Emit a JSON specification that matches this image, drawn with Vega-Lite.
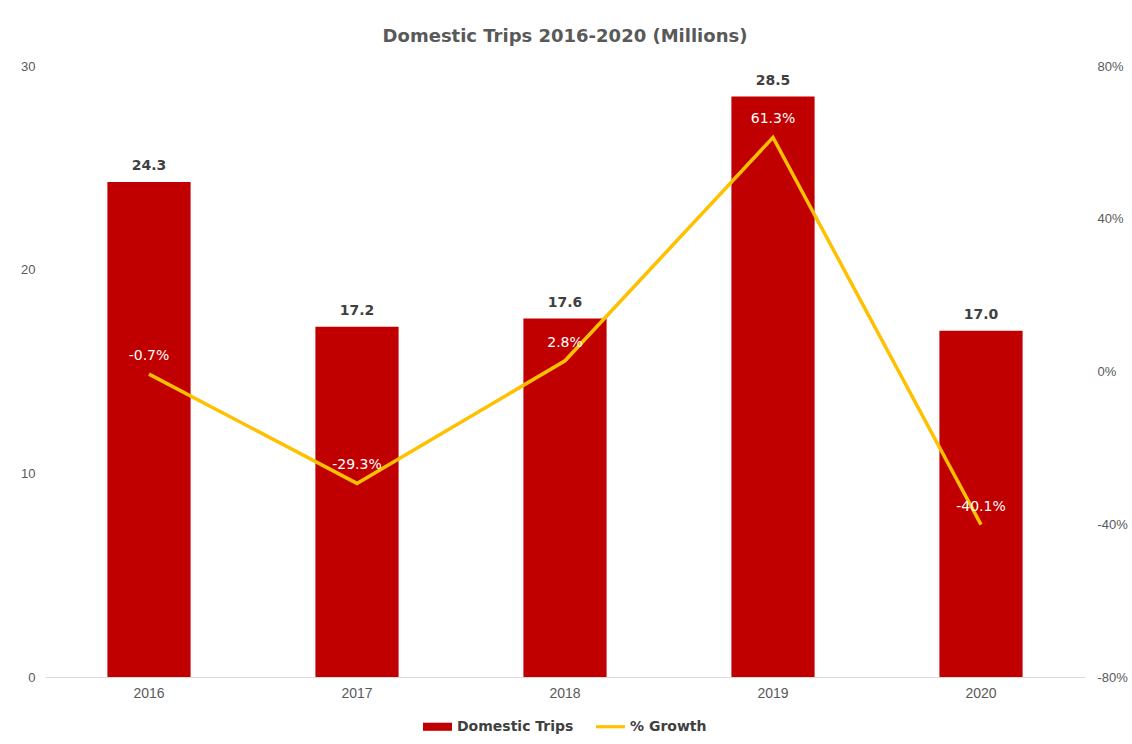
{
  "$schema": "https://vega.github.io/schema/vega-lite/v6.json",
  "width": 1040,
  "height": 611,
  "autosize": {"type": "none"},
  "padding": {"left": 45, "top": 66, "right": 47, "bottom": 67},
  "background": "white",
  "title": {"text": "Domestic Trips 2016-2020 (Millions)", "font": "DejaVu Sans", "fontSize": 18, "fontWeight": "bold", "color": "#595959", "offset": 14, "anchor": "middle"},
  "config": {
    "view": {"stroke": null},
    "axis": {"grid": false, "ticks": false, "labelFont": "Liberation Sans", "labelFontSize": 13, "labelColor": "#595959", "title": null},
    "legend": {"layout": {"bottom": {"anchor": "middle"}}},
    "locale": {"number": {"decimal": ".", "thousands": ",", "grouping": [3], "currency": ["$", ""], "minus": "-"}}
  },
  "data": {"values": [
    {"year": "2016", "trips": 24.3, "growth": -0.007},
    {"year": "2017", "trips": 17.2, "growth": -0.293},
    {"year": "2018", "trips": 17.6, "growth": 0.028},
    {"year": "2019", "trips": 28.5, "growth": 0.613},
    {"year": "2020", "trips": 17.0, "growth": -0.401}
  ]},
  "encoding": {
    "x": {"field": "year", "type": "ordinal", "scale": {"paddingInner": 0.6, "paddingOuter": 0.3},
      "axis": {"labelAngle": 0, "domainColor": "#D9D9D9", "domainWidth": 1, "labelPadding": 9, "labelFontSize": 14}}
  },
  "layer": [
    {
      "encoding": {
        "y": {"field": "trips", "type": "quantitative", "scale": {"domain": [0, 30]},
          "axis": {"orient": "left", "values": [0, 10, 20, 30], "domain": false, "labelPadding": 10}}
      },
      "layer": [
        {"mark": {"type": "bar", "color": "#C00000"},
         "encoding": {"color": {"datum": "Domestic Trips", "type": "nominal",
           "scale": {"domain": ["Domestic Trips", "% Growth"], "range": ["#C00000", "#FFC000"]},
           "legend": {"title": null, "orient": "bottom", "direction": "horizontal", "offset": 12,
             "labelFont": "DejaVu Sans", "labelFontSize": 14, "labelFontWeight": "bold", "labelColor": "#404040", "labelOffset": 5, "columnPadding": 22,
             "symbolSize": 841,
             "encode": {"symbols": {"update": {
               "shape": {"signal": "datum.label === '% Growth' ? 'M-1,-0.11H1V0.11H-1Z' : 'M-1,-0.28H1V0.28H-1Z'"},
               "fill": {"scale": "color", "field": "value"},
               "stroke": {"value": "transparent"},
               "strokeWidth": {"value": 0},
               "opacity": {"value": 1}
             }}}}}}},
        {"mark": {"type": "text", "baseline": "bottom", "dy": -9, "font": "DejaVu Sans", "fontSize": 14, "fontWeight": "bold", "color": "#404040"},
         "encoding": {"text": {"field": "trips", "type": "quantitative", "format": ".1f"}}}
      ]
    },
    {
      "encoding": {
        "y": {"field": "growth", "type": "quantitative", "scale": {"domain": [-0.8, 0.8]},
          "axis": {"orient": "right", "values": [-0.8, -0.4, 0, 0.4, 0.8], "format": ".0%", "domain": false, "labelPadding": 12}}
      },
      "layer": [
        {"mark": {"type": "line", "color": "#FFC000", "strokeWidth": 3.5},
         "encoding": {"color": {"datum": "% Growth", "type": "nominal"}}},
        {"mark": {"type": "text", "baseline": "bottom", "dy": -11, "font": "DejaVu Sans", "fontSize": 14, "color": "white"},
         "encoding": {"text": {"field": "growth", "type": "quantitative", "format": ".1%"}}}
      ]
    }
  ],
  "resolve": {"scale": {"y": "independent"}}
}
